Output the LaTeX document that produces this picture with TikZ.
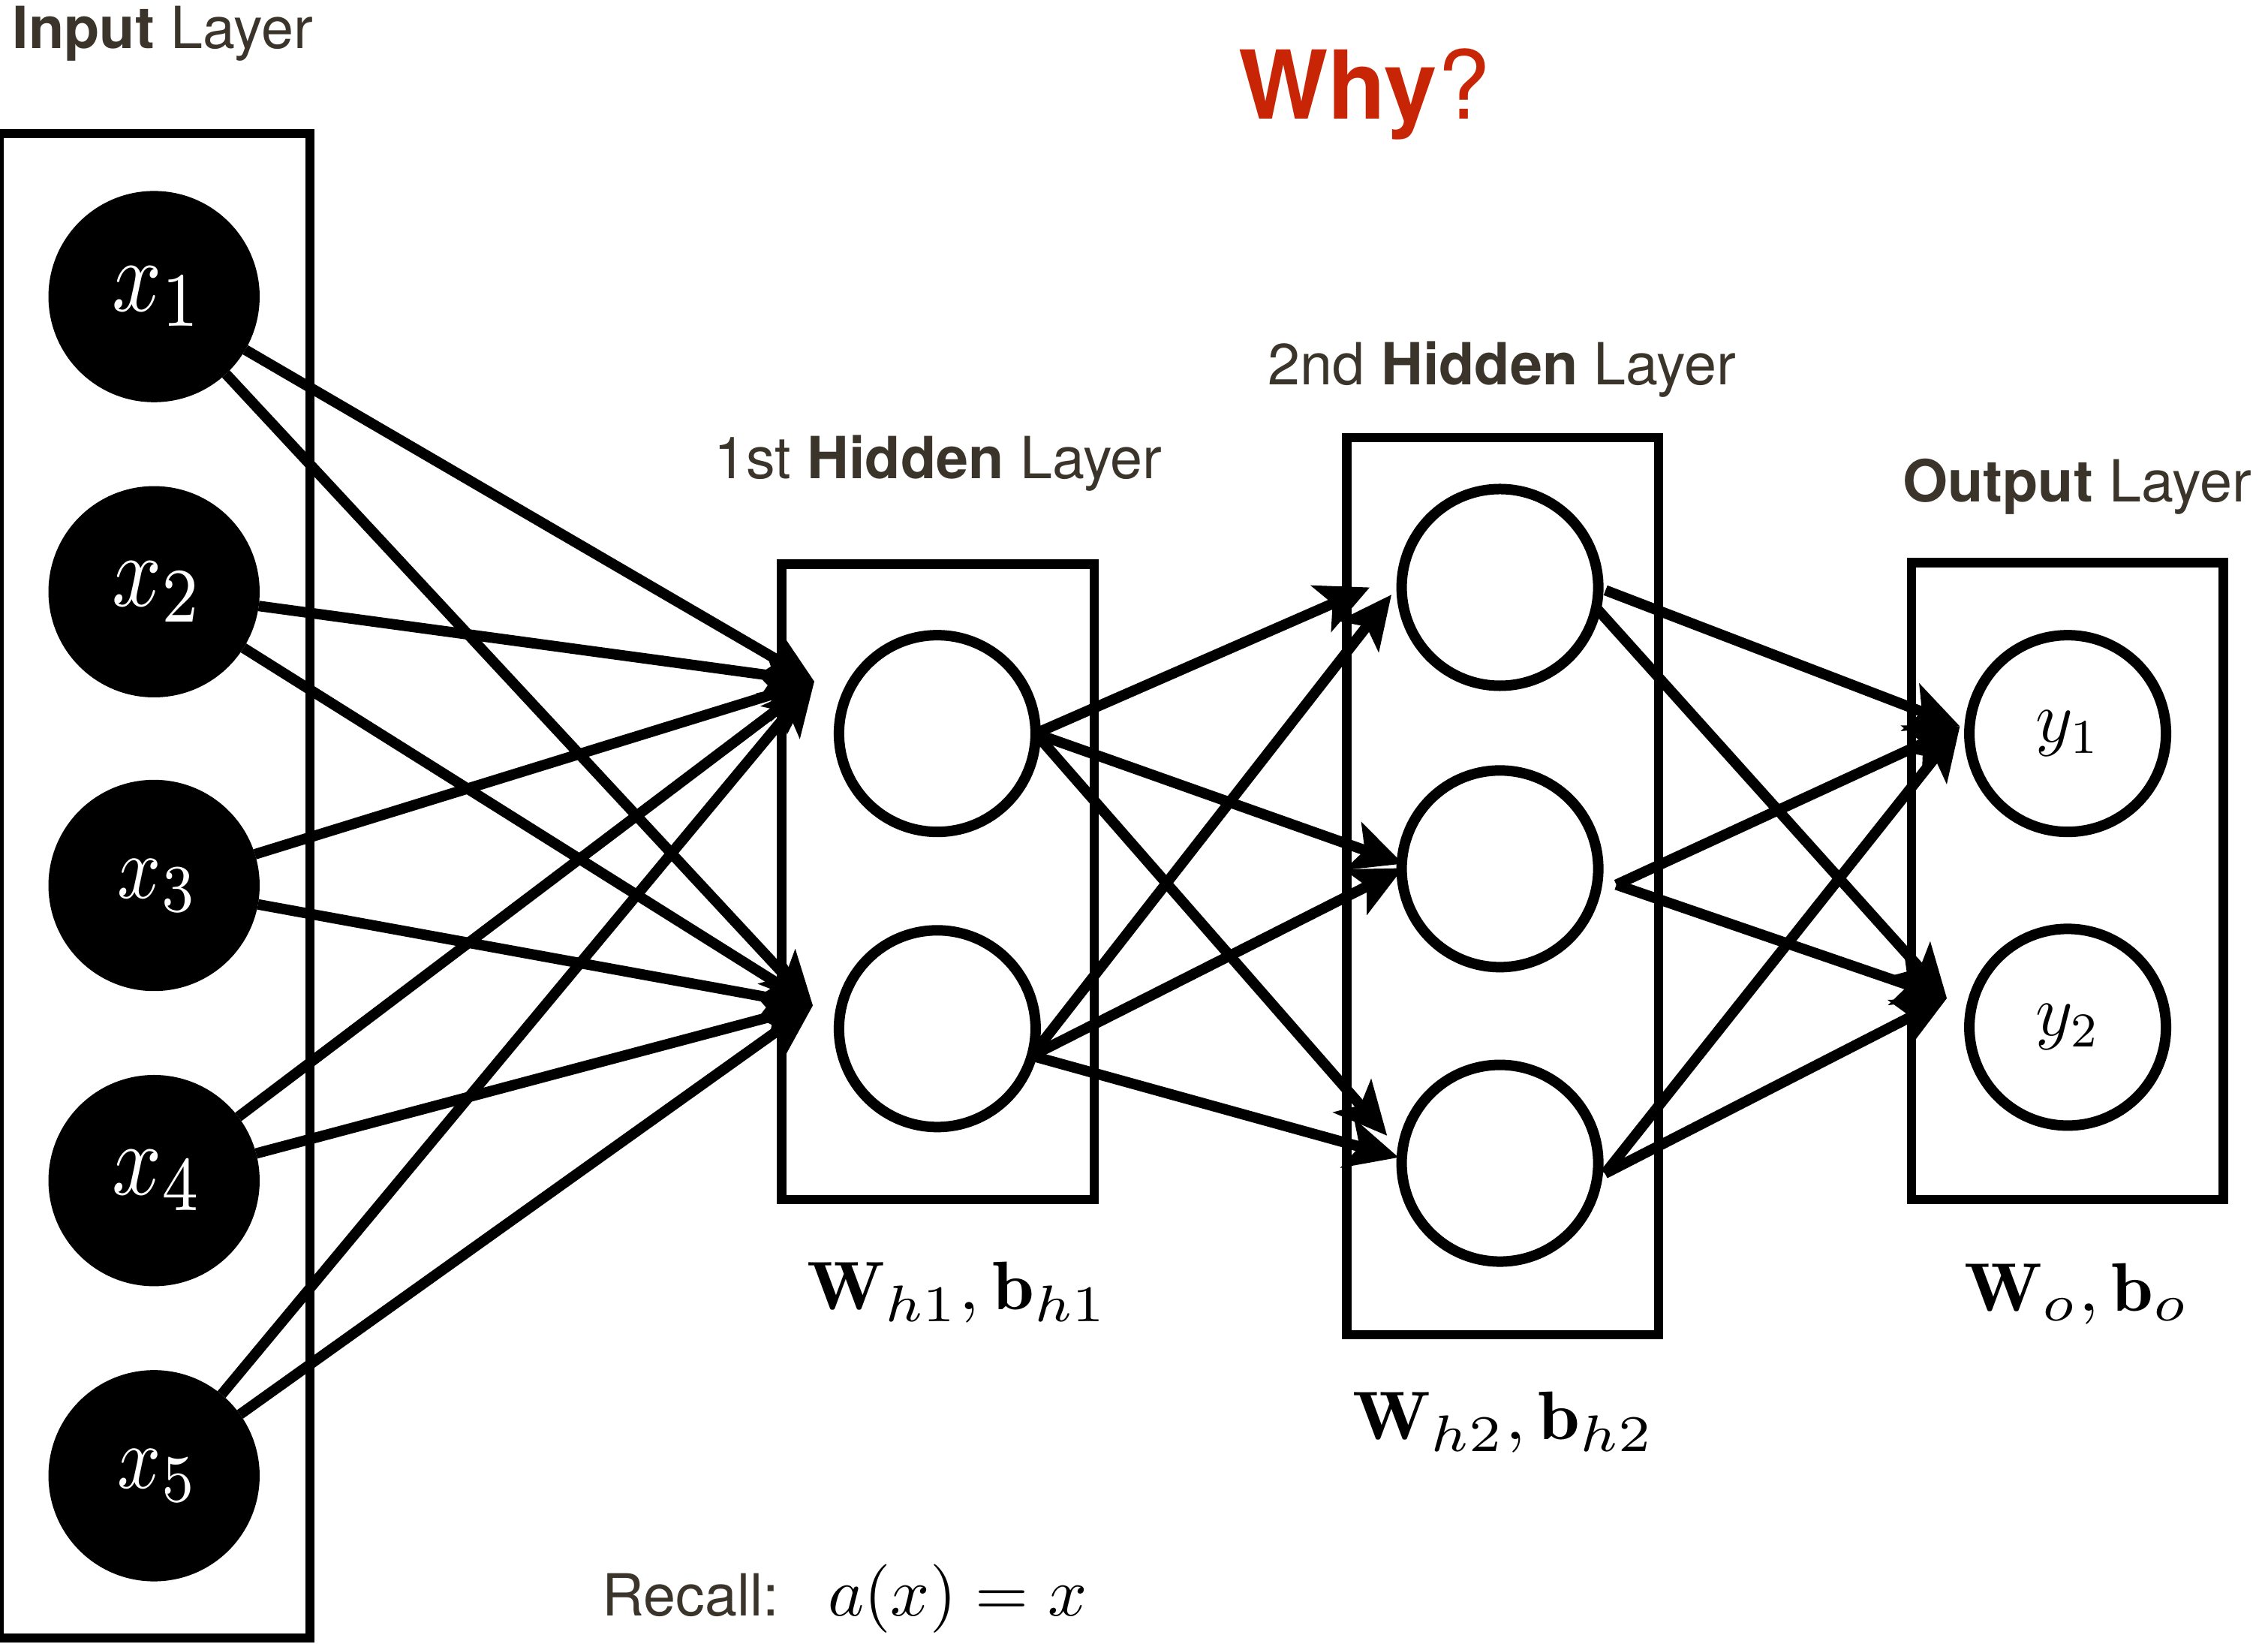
\documentclass[tikz,border=0pt]{standalone}
\usepackage{fix-cm}
\usepackage{fontspec}
\usepackage{graphicx}
\usetikzlibrary{arrows.meta}
\newfontfamily\heros{TeX Gyre Heros}
\definecolor{labelcol}{RGB}{59,52,42}
\definecolor{whyred}{RGB}{200,37,6}
\DeclareMathSizes{10}{10}{7.5}{5}
\DeclareMathSizes{12}{12}{8}{6}
% math label scaled from a 10pt base: #1 horizontal, #2 vertical factor
\newcommand{\mlab}[3]{\scalebox{#1}[#2]{\fontsize{10}{12}\selectfont$#3$}}
\newcommand{\ylabtxt}[1]{\scalebox{2.3}{\fontsize{12}{14}\selectfont$#1$}}
\begin{document}
\begin{tikzpicture}[x=0.019273cm, y=-0.019273cm,
  inp/.style={circle, fill=black, minimum size=2.814cm, inner sep=0pt, outer sep=0pt, text=white},
  neuron/.style={circle, draw=black, line width=0.14cm, fill=white, minimum size=2.62cm, inner sep=0pt, outer sep=0pt},
  layerbox/.style={draw=black, line width=0.125cm, inner sep=0pt, outer sep=0pt},
  conn/.style={line width=0.14cm, -{Stealth[length=0.7cm, width=0.66cm, inset=0.16cm]}},
  lbl/.style={text=labelcol, font=\heros\fontsize{22}{26}\selectfont, anchor=base, inner sep=0pt},
  mlbl/.style={text=black, anchor=base, inner sep=0pt}
]
\useasboundingbox (0,0) rectangle (1568,1136);

% layer boxes
\node[layerbox, minimum width=4.14cm, minimum height=20.04cm] (inbox) at (106.9,612.3) {};
\node[layerbox, minimum width=4.163cm, minimum height=8.461cm] (h1box) at (648.5,609.5) {};
\node[layerbox, minimum width=4.157cm, minimum height=11.947cm] (h2box) at (1038.85,612.55) {};
\node[layerbox, minimum width=4.153cm, minimum height=8.48cm] (outbox) at (1429.25,609) {};

% input neurons
\node[inp] (x1) at (106.5,205) {\hspace{0.1cm}\mlab{3.3}{3.9}{x_1}};
\node[inp] (x2) at (106.5,409) {\hspace{0.1cm}\mlab{3.3}{3.9}{x_2}};
\node[inp] (x3) at (106.5,612) {\hspace{0.1cm}\mlab{2.9}{3.4}{x_3}};
\node[inp] (x4) at (106.5,816) {\hspace{0.1cm}\mlab{3.3}{3.9}{x_4}};
\node[inp] (x5) at (106.5,1020) {\hspace{0.1cm}\mlab{2.9}{3.4}{x_5}};

% hidden 1
\node[neuron] (h1a) at (648,507) {};
\node[neuron] (h1b) at (648,711) {};

% hidden 2
\node[neuron] (h2a) at (1037,406) {};
\node[neuron] (h2b) at (1037,600.5) {};
\node[neuron] (h2c) at (1037,804) {};

% output
\node[neuron] (y1) at (1429.5,507) {\ylabtxt{y_1}};
\node[neuron] (y2) at (1429.5,710) {\ylabtxt{y_2}};

% arrow tip coordinates
\coordinate (t1a) at (563,471);
\coordinate (t1b) at (562,695);
\coordinate (t2aa) at (947,406);
\coordinate (t2ab) at (962,411);
\coordinate (t2ba) at (970,597);
\coordinate (t2bb) at (970,600);
\coordinate (t2ca) at (959,785);
\coordinate (t2cb) at (967,800);
\coordinate (toa) at (1355,502);
\coordinate (tob) at (1346,690);

% input -> hidden 1
\foreach \i in {1,...,5}{
  \draw[conn] (x\i) -- (t1a);
  \draw[conn] (x\i) -- (t1b);
}

% hidden 1 -> hidden 2
\draw[conn] (h1a.east) -- (t2aa);
\draw[conn] (h1a.east) -- (t2ba);
\draw[conn] (h1a.east) -- (t2ca);
\draw[conn] (h1b.-16) -- (t2ab);
\draw[conn] (h1b.-16) -- (t2bb);
\draw[conn] (h1b.-16) -- (t2cb);

% hidden 2 -> output
\draw[conn] ([shift={(5,2)}]h2a.east) -- (toa);
\draw[conn] (h2a.-12) -- (tob);
\draw[conn] ([shift={(12.5,11)}]h2b.east) -- (toa);
\draw[conn] ([shift={(12.5,11)}]h2b.east) -- (tob);
\draw[conn] ([shift={(5,0)}]h2c.-6) -- (toa);
\draw[conn] ([shift={(5,0)}]h2c.-6) -- (tob);

% labels
\node[lbl] (linput) at (112.5,33.7) {\bfseries Input\mdseries{} Layer};
\node[lbl] (lh1) at (648.5,331) {1st \bfseries Hidden\mdseries{} Layer};
\node[lbl] (lh2) at (1038.5,266) {2nd \bfseries Hidden\mdseries{} Layer};
\node[lbl] (lout) at (1436,347) {\bfseries Output\mdseries{} Layer};
\node[anchor=base west, inner sep=0pt, text=whyred, font=\heros\fontsize{36}{42}\selectfont] (why) at (856,82) {\bfseries Why\mdseries ?};

\node[mlbl] (wh1) at (662,905) {\mlab{2.86}{2.6}{\mathbf{W}_{h1}, \mathbf{b}_{h1}}};
\node[mlbl] (wh2) at (1039.5,995) {\mlab{2.86}{2.6}{\mathbf{W}_{h2}, \mathbf{b}_{h2}}};
\node[mlbl] (wo) at (1436,906) {\mlab{2.86}{2.6}{\mathbf{W}_{o}, \mathbf{b}_{o}}};

\node[lbl, anchor=base west] (recall) at (416,1117) {Recall:};
\node[mlbl, anchor=base west] (recalleq) at (572,1117) {\mlab{2.6}{2.6}{a(x) = x}};
\end{tikzpicture}
\end{document}
